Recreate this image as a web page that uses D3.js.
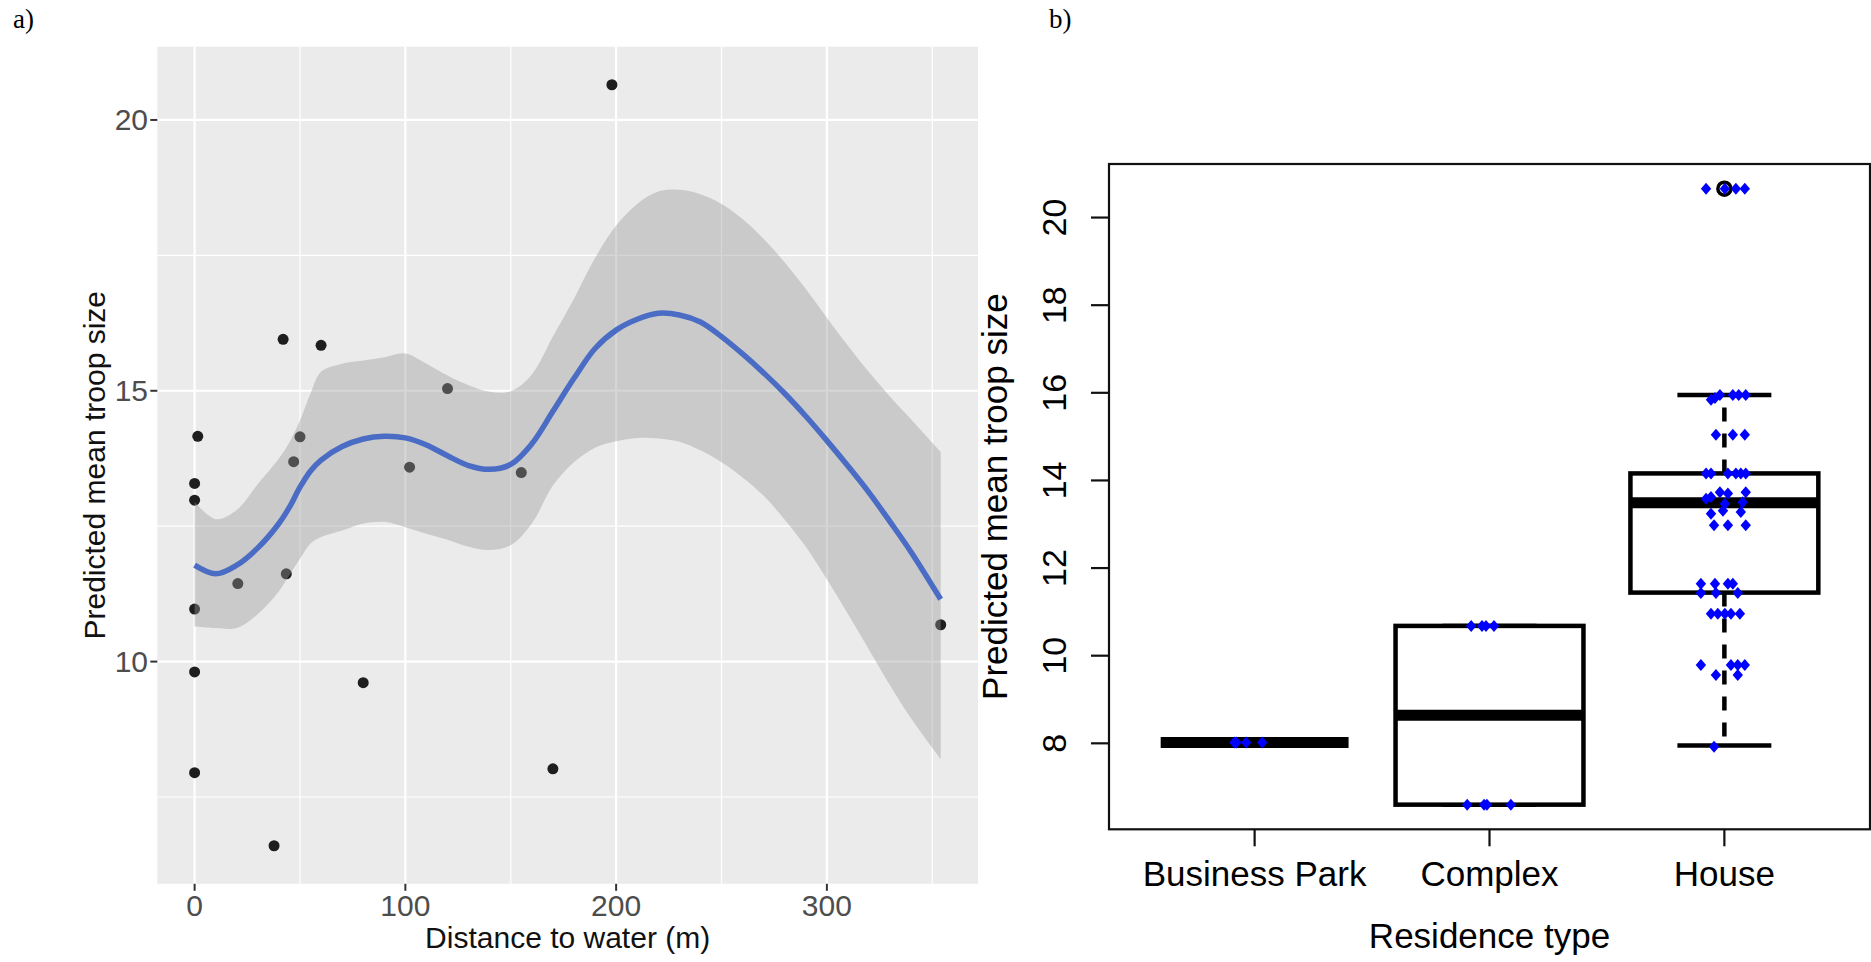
<!DOCTYPE html>
<html>
<head>
<meta charset="utf-8">
<script src="https://cdn.jsdelivr.net/npm/d3@7"></script>
<style>
  html, body { margin: 0; padding: 0; background: #fff; }
  svg { display: block; }
</style>
</head>
<body>
<svg id="chart" width="1871" height="962"></svg>
<script>
// ---------- Panel a: predicted troop size against distance to water ----------
const distance  = [198, 42, 60, 120, 1.5, 50, 47, 102, 155, 0, 0, 20.5, 43.5, 0, 0, 80, 0, 170, 37.7, 354];
const troopSize = [20.65, 15.95, 15.84, 15.04, 14.16, 14.15, 13.69, 13.59, 13.49, 13.29, 12.98, 11.44, 11.62, 10.97, 9.81, 9.61, 7.95, 8.02, 6.60, 10.68];

// smoothed fit with its confidence band, sampled along distance
const fitDistance = [0, 10, 20, 30, 40, 45, 50, 55, 60, 70, 80, 90, 100, 110, 120, 130, 140, 150, 160, 170,
                     180, 190, 200, 210, 220, 230, 240, 250, 260, 270, 280, 290, 300, 310, 320, 330, 340, 354];
const fitMean  = [11.78, 11.62, 11.78, 12.10, 12.55, 12.85, 13.22, 13.52, 13.72, 13.97, 14.11, 14.16, 14.13, 14.00, 13.80, 13.62, 13.55, 13.64, 14.02, 14.62,
                  15.23, 15.78, 16.12, 16.32, 16.43, 16.40, 16.27, 16.00, 15.68, 15.33, 14.95, 14.53, 14.08, 13.61, 13.12, 12.58, 12.02, 11.15];
const fitUpper = [12.95, 12.63, 12.80, 13.28, 13.75, 14.05, 14.45, 14.95, 15.35, 15.50, 15.56, 15.62, 15.69, 15.50, 15.28, 15.10, 14.98, 14.99, 15.30, 16.00,
                  16.70, 17.45, 18.05, 18.45, 18.68, 18.71, 18.63, 18.45, 18.17, 17.80, 17.37, 16.88, 16.35, 15.83, 15.34, 14.89, 14.47, 13.87];
const fitLower = [10.65, 10.62, 10.62, 10.88, 11.30, 11.60, 11.90, 12.18, 12.30, 12.42, 12.55, 12.58, 12.48, 12.36, 12.25, 12.12, 12.06, 12.15, 12.55, 13.25,
                  13.68, 13.95, 14.07, 14.13, 14.12, 14.06, 13.90, 13.68, 13.40, 13.06, 12.62, 12.12, 11.52, 10.88, 10.22, 9.56, 8.95, 8.20];

const xTicksA = [0, 100, 200, 300];
const xMinorA = [50, 150, 250, 350];
const yTicksA = [10, 15, 20];
const yMinorA = [7.5, 12.5, 17.5];

// ---------- Panel b: troop size by residence type ----------
const residenceTypes = ["Business Park", "Complex", "House"];
const boxLow    = [8.02, 6.60, 7.95];
const boxQ1     = [8.02, 6.60, 11.44];
const boxMedian = [8.02, 8.64, 13.49];
const boxQ3     = [8.02, 10.68, 14.16];
const boxHigh   = [8.02, 10.68, 15.95];
const outlierType  = ["House"];
const outlierValue = [20.66];

// jittered strip points: category, value, horizontal jitter (in category units)
const stripType = [
  "Business Park", "Business Park", "Business Park", "Business Park",
  "Complex", "Complex", "Complex", "Complex", "Complex", "Complex", "Complex", "Complex",
  "House", "House", "House", "House",
  "House", "House", "House", "House", "House", "House",
  "House", "House", "House",
  "House", "House", "House", "House", "House", "House",
  "House", "House", "House", "House", "House", "House", "House",
  "House", "House", "House",
  "House", "House", "House",
  "House", "House", "House", "House",
  "House", "House", "House",
  "House", "House", "House", "House", "House",
  "House", "House", "House", "House",
  "House", "House",
  "House"
];
const stripValue = [
  8.02, 8.02, 8.02, 8.02,
  10.68, 10.68, 10.68, 10.68, 6.60, 6.60, 6.60, 6.60,
  20.66, 20.66, 20.66, 20.66,
  15.95, 15.95, 15.95, 15.84, 15.88, 15.95,
  15.04, 15.04, 15.04,
  14.16, 14.16, 14.16, 14.16, 14.16, 14.16,
  13.58, 13.62, 13.73, 13.70, 13.73, 13.50, 13.47,
  13.24, 13.31, 13.28,
  12.98, 12.98, 12.98,
  11.64, 11.64, 11.64, 11.64,
  11.43, 11.43, 11.43,
  10.96, 10.96, 10.96, 10.96, 10.96,
  9.79, 9.79, 9.79, 9.79,
  9.56, 9.56,
  7.92
];
const stripJitter = [
  -0.086, -0.078, -0.036, 0.032,
  -0.078, -0.032, -0.015, 0.019, -0.095, -0.023, -0.011, 0.091,
  -0.078, 0.002, 0.049, 0.087,
  0.036, 0.061, 0.091, -0.057, -0.040, -0.019,
  -0.036, 0.036, 0.087,
  -0.078, -0.057, 0.015, 0.049, 0.070, 0.091,
  -0.078, -0.057, -0.019, 0.015, 0.091, 0.078, 0.002,
  -0.057, -0.006, 0.070,
  -0.044, 0.015, 0.091,
  -0.100, -0.040, 0.015, 0.036,
  -0.100, -0.036, 0.057,
  -0.057, -0.028, 0.002, 0.028, 0.066,
  -0.100, 0.028, 0.057, 0.087,
  -0.036, 0.057,
  -0.044
];
const yTicksB = [8, 10, 12, 14, 16, 18, 20];

// ---------- drawing ----------
const svg = d3.select("#chart");
const SANS = "'Liberation Sans', Arial, Helvetica, sans-serif";
const SERIF = "'Liberation Serif', 'Times New Roman', serif";

// ===== Panel a (ggplot-like) =====
const A = { left: 157.3, right: 978, top: 46.7, bottom: 883.8 };

function padded(extent, frac) {
  const r = extent[1] - extent[0];
  return [extent[0] - r * frac, extent[1] + r * frac];
}
const xA = d3.scaleLinear().domain(padded(d3.extent(distance), 0.05)).range([A.left, A.right]);
const yA = d3.scaleLinear().domain(padded(d3.extent(troopSize), 0.05)).range([A.bottom, A.top]);

const gA = svg.append("g");
gA.append("rect")
  .attr("x", A.left).attr("y", A.top)
  .attr("width", A.right - A.left).attr("height", A.bottom - A.top)
  .attr("fill", "#EBEBEB");

// grid: minor then major
gA.selectAll(".xminor").data(xMinorA).join("line")
  .attr("x1", d => xA(d)).attr("x2", d => xA(d))
  .attr("y1", A.top).attr("y2", A.bottom)
  .attr("stroke", "#fff").attr("stroke-width", 1.2);
gA.selectAll(".yminor").data(yMinorA).join("line")
  .attr("x1", A.left).attr("x2", A.right)
  .attr("y1", d => yA(d)).attr("y2", d => yA(d))
  .attr("stroke", "#fff").attr("stroke-width", 1.2);
gA.selectAll(".xmajor").data(xTicksA).join("line")
  .attr("x1", d => xA(d)).attr("x2", d => xA(d))
  .attr("y1", A.top).attr("y2", A.bottom)
  .attr("stroke", "#fff").attr("stroke-width", 2.2);
gA.selectAll(".ymajor").data(yTicksA).join("line")
  .attr("x1", A.left).attr("x2", A.right)
  .attr("y1", d => yA(d)).attr("y2", d => yA(d))
  .attr("stroke", "#fff").attr("stroke-width", 2.2);

// observed points
const ptsA = distance.map((d, i) => ({ x: d, y: troopSize[i] }));
gA.selectAll(".pt").data(ptsA).join("circle")
  .attr("cx", d => xA(d.x)).attr("cy", d => yA(d.y))
  .attr("r", 5.5).attr("fill", "#1e1e1e");

// confidence band and fitted curve
const fitRows = fitDistance.map((d, i) => ({ x: d, m: fitMean[i], lo: fitLower[i], hi: fitUpper[i] }));
const smooth = d3.curveCatmullRom.alpha(0.5);
gA.append("path").datum(fitRows)
  .attr("d", d3.area().x(d => xA(d.x)).y0(d => yA(d.lo)).y1(d => yA(d.hi)).curve(smooth))
  .attr("fill", "#999999").attr("fill-opacity", 0.4);
gA.append("path").datum(fitRows)
  .attr("d", d3.line().x(d => xA(d.x)).y(d => yA(d.m)).curve(smooth))
  .attr("fill", "none").attr("stroke", "#4a6cc4").attr("stroke-width", 5.5)
  .attr("stroke-linejoin", "round");

// axes
const axA = svg.append("g");
axA.selectAll(".xt").data(xTicksA).join("line")
  .attr("x1", d => xA(d)).attr("x2", d => xA(d))
  .attr("y1", A.bottom).attr("y2", A.bottom + 7)
  .attr("stroke", "#333").attr("stroke-width", 2);
axA.selectAll(".xl").data(xTicksA).join("text")
  .attr("x", d => xA(d)).attr("y", 916)
  .attr("text-anchor", "middle")
  .attr("font-family", SANS).attr("font-size", 30).attr("fill", "#4D4D4D")
  .text(d => d);
axA.selectAll(".yt").data(yTicksA).join("line")
  .attr("x1", A.left - 7).attr("x2", A.left)
  .attr("y1", d => yA(d)).attr("y2", d => yA(d))
  .attr("stroke", "#333").attr("stroke-width", 2);
axA.selectAll(".yl").data(yTicksA).join("text")
  .attr("x", 148).attr("y", d => yA(d) + 10.5)
  .attr("text-anchor", "end")
  .attr("font-family", SANS).attr("font-size", 30).attr("fill", "#4D4D4D")
  .text(d => d);
axA.append("text")
  .attr("x", (A.left + A.right) / 2).attr("y", 948)
  .attr("text-anchor", "middle")
  .attr("font-family", SANS).attr("font-size", 30).attr("fill", "#111")
  .text("Distance to water (m)");
axA.append("text")
  .attr("transform", `translate(104.5,${(A.top + A.bottom) / 2}) rotate(-90)`)
  .attr("text-anchor", "middle")
  .attr("font-family", SANS).attr("font-size", 30).attr("fill", "#111")
  .text("Predicted mean troop size");
svg.append("text")
  .attr("x", 13).attr("y", 28)
  .attr("font-family", SERIF).attr("font-size", 27).attr("fill", "#000")
  .text("a)");

// ===== Panel b (base-graphics-like boxplot) =====
const B = { left: 1109, right: 1870, top: 164, bottom: 829.3 };
const catIndex = d => residenceTypes.indexOf(d) + 1;
const xB = d3.scaleLinear().domain([0.38, 3.62]).range([B.left, B.right]);
const yB = d3.scaleLinear().domain(padded(d3.extent(stripValue.concat(outlierValue)), 0.04)).range([B.bottom, B.top]);

const gB = svg.append("g");
const boxes = residenceTypes.map((t, i) => ({
  t, i: i + 1, lo: boxLow[i], q1: boxQ1[i], med: boxMedian[i], q3: boxQ3[i], hi: boxHigh[i]
}));

// whiskers (dashed)
boxes.forEach(b => {
  if (b.hi > b.q3) {
    gB.append("line").attr("x1", xB(b.i)).attr("x2", xB(b.i))
      .attr("y1", yB(b.q3)).attr("y2", yB(b.hi))
      .attr("stroke", "#000").attr("stroke-width", 4.5).attr("stroke-dasharray", "14 12");
  }
  if (b.lo < b.q1) {
    gB.append("line").attr("x1", xB(b.i)).attr("x2", xB(b.i))
      .attr("y1", yB(b.q1)).attr("y2", yB(b.lo))
      .attr("stroke", "#000").attr("stroke-width", 4.5).attr("stroke-dasharray", "14 12");
  }
});
// staples
gB.selectAll(".staple-hi").data(boxes).join("line")
  .attr("x1", d => xB(d.i - 0.2)).attr("x2", d => xB(d.i + 0.2))
  .attr("y1", d => yB(d.hi)).attr("y2", d => yB(d.hi))
  .attr("stroke", "#000").attr("stroke-width", 4.5);
gB.selectAll(".staple-lo").data(boxes).join("line")
  .attr("x1", d => xB(d.i - 0.2)).attr("x2", d => xB(d.i + 0.2))
  .attr("y1", d => yB(d.lo)).attr("y2", d => yB(d.lo))
  .attr("stroke", "#000").attr("stroke-width", 4.5);
// boxes
gB.selectAll(".box").data(boxes).join("rect")
  .attr("x", d => xB(d.i - 0.4)).attr("width", d => xB(d.i + 0.4) - xB(d.i - 0.4))
  .attr("y", d => yB(d.q3)).attr("height", d => yB(d.q1) - yB(d.q3))
  .attr("fill", "#fff").attr("stroke", "#000").attr("stroke-width", 4.5);
// medians
gB.selectAll(".median").data(boxes).join("line")
  .attr("x1", d => xB(d.i - 0.4)).attr("x2", d => xB(d.i + 0.4))
  .attr("y1", d => yB(d.med)).attr("y2", d => yB(d.med))
  .attr("stroke", "#000").attr("stroke-width", 11);
// outliers
gB.selectAll(".outlier").data(outlierValue.map((v, i) => ({ t: outlierType[i], v })))
  .join("circle")
  .attr("cx", d => xB(catIndex(d.t))).attr("cy", d => yB(d.v))
  .attr("r", 6.5).attr("fill", "none").attr("stroke", "#000").attr("stroke-width", 3.5);

// jittered points (filled diamonds)
const diamond = (cx, cy) => `M${cx},${cy - 6}L${cx + 5.2},${cy}L${cx},${cy + 6}L${cx - 5.2},${cy}Z`;
const strip = stripValue.map((v, i) => ({ t: stripType[i], v, j: stripJitter[i] }));
gB.selectAll(".strip").data(strip).join("path")
  .attr("d", d => diamond(xB(catIndex(d.t) + d.j), yB(d.v)))
  .attr("fill", "#0000FF");

// frame
gB.append("rect")
  .attr("x", B.left).attr("y", B.top)
  .attr("width", B.right - B.left).attr("height", B.bottom - B.top)
  .attr("fill", "none").attr("stroke", "#111").attr("stroke-width", 2.2);

// axes
const axB = svg.append("g");
axB.selectAll(".yt").data(yTicksB).join("line")
  .attr("x1", B.left - 18).attr("x2", B.left)
  .attr("y1", d => yB(d)).attr("y2", d => yB(d))
  .attr("stroke", "#111").attr("stroke-width", 2.2);
axB.selectAll(".yl").data(yTicksB).join("text")
  .attr("transform", d => `translate(1066,${yB(d)}) rotate(-90)`)
  .attr("text-anchor", "middle")
  .attr("font-family", SANS).attr("font-size", 34).attr("fill", "#000")
  .text(d => d);
axB.selectAll(".xt").data(residenceTypes).join("line")
  .attr("x1", d => xB(catIndex(d))).attr("x2", d => xB(catIndex(d)))
  .attr("y1", B.bottom).attr("y2", B.bottom + 17)
  .attr("stroke", "#111").attr("stroke-width", 2.2);
axB.selectAll(".xl").data(residenceTypes).join("text")
  .attr("x", d => xB(catIndex(d))).attr("y", 886)
  .attr("text-anchor", "middle")
  .attr("font-family", SANS).attr("font-size", 35).attr("fill", "#000")
  .text(d => d);
axB.append("text")
  .attr("x", (B.left + B.right) / 2).attr("y", 948)
  .attr("text-anchor", "middle")
  .attr("font-family", SANS).attr("font-size", 35).attr("fill", "#000")
  .text("Residence type");
axB.append("text")
  .attr("transform", `translate(1007,${(B.top + B.bottom) / 2}) rotate(-90)`)
  .attr("text-anchor", "middle")
  .attr("font-family", SANS).attr("font-size", 35).attr("fill", "#000")
  .text("Predicted mean troop size");
svg.append("text")
  .attr("x", 1049).attr("y", 28)
  .attr("font-family", SERIF).attr("font-size", 27).attr("fill", "#000")
  .text("b)");
</script>
</body>
</html>
